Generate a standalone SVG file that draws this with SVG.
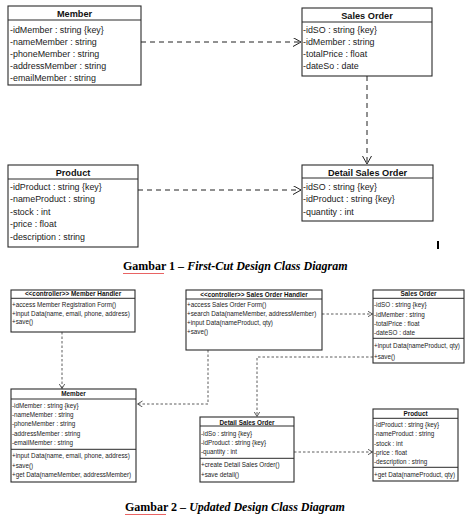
<svg xmlns="http://www.w3.org/2000/svg" width="469" height="524" viewBox="0 0 469 524">
<style>
.box{fill:#fff;stroke:#2a2a2a;stroke-width:1.1}
.sep{stroke:#2a2a2a;stroke-width:1}
.hd{font-family:"Liberation Sans",Arial,sans-serif;font-weight:bold;font-size:9.2px;fill:#111;text-anchor:middle}
.at{font-family:"Liberation Sans",Arial,sans-serif;font-size:8.9px;fill:#1a1a1a}
.hs{font-family:"Liberation Sans",Arial,sans-serif;font-weight:bold;font-size:6.4px;fill:#111;text-anchor:middle}
.as{font-family:"Liberation Sans",Arial,sans-serif;font-size:6.3px;fill:#222}
.d1{fill:none;stroke:#222;stroke-width:1;stroke-dasharray:5,4}
.d2{fill:none;stroke:#333;stroke-width:0.8;stroke-dasharray:2.5,2}
.cap{font-family:"Liberation Serif","Times New Roman",serif;font-weight:bold;font-size:12px;fill:#000}
.sq{fill:none;stroke:#e02020;stroke-width:0.7}
</style>
<defs>
<marker id="ab" markerUnits="userSpaceOnUse" markerWidth="10" markerHeight="10" refX="8" refY="4.5" orient="auto">
<path d="M0,0 L8,4.5 L0,9" fill="none" stroke="#222" stroke-width="1"/>
</marker>
<marker id="as" markerUnits="userSpaceOnUse" markerWidth="7" markerHeight="7" refX="5" refY="3" orient="auto">
<path d="M0,0 L5,3 L0,6" fill="none" stroke="#333" stroke-width="0.8"/>
</marker>
</defs>
<rect width="469" height="524" fill="#fff"/>

<!-- Top diagram -->
<g id="member1">
<rect class="box" x="8" y="6" width="133" height="79"/>
<line class="sep" x1="8" y1="20" x2="141" y2="20"/>
<text class="hd" x="74.5" y="17">Member</text>
<text class="at" x="10" y="32.5">-idMember : string {key}</text>
<text class="at" x="10" y="44.6">-nameMember : string</text>
<text class="at" x="10" y="56.7">-phoneMember : string</text>
<text class="at" x="10" y="68.8">-addressMember : string</text>
<text class="at" x="10" y="80.9">-emailMember : string</text>
</g>
<g id="salesorder1">
<rect class="box" x="302" y="8" width="130" height="68"/>
<line class="sep" x1="302" y1="22" x2="432" y2="22"/>
<text class="hd" x="367" y="18.5">Sales Order</text>
<text class="at" x="303" y="32.5">-idSO : string {key}</text>
<text class="at" x="303" y="44.5">-idMember : string</text>
<text class="at" x="303" y="56.5">-totalPrice : float</text>
<text class="at" x="303" y="68.6">-dateSo : date</text>
</g>
<g id="product1">
<rect class="box" x="8" y="165" width="130" height="82"/>
<line class="sep" x1="8" y1="179" x2="138" y2="179"/>
<text class="hd" x="73" y="176">Product</text>
<text class="at" x="10" y="189.5">-idProduct : string {key}</text>
<text class="at" x="10" y="202">-nameProduct : string</text>
<text class="at" x="10" y="214.7">-stock : int</text>
<text class="at" x="10" y="227">-price : float</text>
<text class="at" x="10" y="239.5">-description : string</text>
</g>
<g id="detail1">
<rect class="box" x="302" y="165" width="131" height="56"/>
<line class="sep" x1="302" y1="178" x2="433" y2="178"/>
<text class="hd" x="367.5" y="175.5">Detail Sales Order</text>
<text class="at" x="303" y="189.5">-idSO : string {key}</text>
<text class="at" x="303" y="202">-idProduct : string {key}</text>
<text class="at" x="303" y="214.7">-quantity : int</text>
</g>
<g id="connectors1">
<path class="d1" d="M141,42 H301" marker-end="url(#ab)"/>
<path class="d1" d="M367,76 V164" marker-end="url(#ab)"/>
<path class="d1" d="M138,190 H301" marker-end="url(#ab)"/>
</g>
<rect x="437" y="241" width="2" height="8" fill="#000"/>
<g id="caption1">
<text class="cap" x="123" y="270">Gambar 1 – <tspan font-style="italic">First-Cut Design Class Diagram</tspan></text>
<path class="sq" d="M123,273 l1,1 l1,-1 l1,1 l1,-1 l1,1 l1,-1 l1,1 l1,-1 l1,1 l1,-1 l1,1 l1,-1 l1,1 l1,-1 l1,1 l1,-1 l1,1 l1,-1 l1,1 l1,-1 l1,1 l1,-1 l1,1 l1,-1 l1,1 l1,-1 l1,1 l1,-1 l1,1 l1,-1 l1,1 l1,-1 l1,1 l1,-1 l1,1 l1,-1 l1,1 l1,-1 l1,1 l1,-1 l1,1"/>
</g>

<!-- Bottom diagram -->
<g id="memberhandler">
<rect class="box" x="11" y="290" width="124" height="42"/>
<line class="sep" x1="11" y1="298.3" x2="135" y2="298.3"/>
<text class="hs" x="73" y="296.3">&lt;&lt;controller&gt;&gt; Member Handler</text>
<text class="as" x="12" y="307.3">+access Member Registration Form()</text>
<text class="as" x="12" y="315.6">+input Data(name, email, phone, address)</text>
<text class="as" x="12" y="324">+save()</text>
</g>
<g id="salesorderhandler">
<rect class="box" x="186" y="290" width="136" height="60"/>
<line class="sep" x1="186" y1="299" x2="322" y2="299"/>
<text class="hs" x="254" y="296.6">&lt;&lt;controller&gt;&gt; Sales Order Handler</text>
<text class="as" x="187" y="307.3">+access Sales Order Form()</text>
<text class="as" x="187" y="316">+search Data(nameMember, addressMember)</text>
<text class="as" x="187" y="325">+input Data(nameProduct, qty)</text>
<text class="as" x="187" y="334">+save()</text>
</g>
<g id="salesorder2">
<rect class="box" x="373" y="290" width="91" height="73"/>
<line class="sep" x1="373" y1="298.3" x2="464" y2="298.3"/>
<line class="sep" x1="373" y1="338.3" x2="464" y2="338.3"/>
<text class="hs" x="418.5" y="296.3">Sales Order</text>
<text class="as" x="374" y="307.3">-idSO : string {key}</text>
<text class="as" x="374" y="316.6">-idMember : string</text>
<text class="as" x="374" y="325.6">-totalPrice : float</text>
<text class="as" x="374" y="335">-dateSO : date</text>
<text class="as" x="374" y="348">+input Data(nameProduct, qty)</text>
<text class="as" x="374" y="359">+save()</text>
</g>
<g id="member2">
<rect class="box" x="11" y="389" width="125" height="93"/>
<line class="sep" x1="11" y1="399" x2="136" y2="399"/>
<line class="sep" x1="11" y1="449.3" x2="136" y2="449.3"/>
<text class="hs" x="73.5" y="396.3">Member</text>
<text class="as" x="12" y="408.3">-idMember : string {key}</text>
<text class="as" x="12" y="417.3">-nameMember : string</text>
<text class="as" x="12" y="426.3">-phoneMember : string</text>
<text class="as" x="12" y="435.6">-addressMember : string</text>
<text class="as" x="12" y="445">-emailMember : string</text>
<text class="as" x="12" y="458.3">+input Data(name, email, phone, address)</text>
<text class="as" x="12" y="468">+save()</text>
<text class="as" x="12" y="477.3">+get Data(nameMember, addressMember)</text>
</g>
<g id="detail2">
<rect class="box" x="200" y="417" width="94" height="65"/>
<line class="sep" x1="200" y1="426" x2="294" y2="426"/>
<line class="sep" x1="200" y1="458.3" x2="294" y2="458.3"/>
<text class="hs" x="247" y="424.6">Detail Sales Order</text>
<text class="as" x="201" y="435.6">-idSo : string {key}</text>
<text class="as" x="201" y="445">-idProduct : string {key}</text>
<text class="as" x="201" y="454">-quantity : int</text>
<text class="as" x="201" y="467.3">+create Detail Sales Order()</text>
<text class="as" x="201" y="477.3">+save detail()</text>
</g>
<g id="product2">
<rect class="box" x="373" y="409" width="85" height="72"/>
<line class="sep" x1="373" y1="418.3" x2="458" y2="418.3"/>
<line class="sep" x1="373" y1="467.3" x2="458" y2="467.3"/>
<text class="hs" x="415.5" y="415.8">Product</text>
<text class="as" x="374" y="426.6">-idProduct : string {key}</text>
<text class="as" x="374" y="436.3">-nameProduct : string</text>
<text class="as" x="374" y="445.6">-stock : int</text>
<text class="as" x="374" y="455">-price : float</text>
<text class="as" x="374" y="464">-description : string</text>
<text class="as" x="374" y="476.6">+get Data(nameProduct, qty)</text>
</g>
<g id="connectors2">
<path class="d2" d="M62,332 V388.5" marker-end="url(#as)"/>
<path class="d2" d="M322,314 H372.5" marker-end="url(#as)"/>
<path class="d2" d="M208,350 V404 H137.5" marker-end="url(#as)"/>
<path class="d2" d="M373,357 H257 V416.5" marker-end="url(#as)"/>
<path class="d2" d="M294,452 H372.5" marker-end="url(#as)"/>
</g>
<g id="caption2">
<text class="cap" x="125" y="511">Gambar 2 – <tspan font-style="italic">Updated Design Class Diagram</tspan></text>
<path class="sq" d="M125,514 l1,1 l1,-1 l1,1 l1,-1 l1,1 l1,-1 l1,1 l1,-1 l1,1 l1,-1 l1,1 l1,-1 l1,1 l1,-1 l1,1 l1,-1 l1,1 l1,-1 l1,1 l1,-1 l1,1 l1,-1 l1,1 l1,-1 l1,1 l1,-1 l1,1 l1,-1 l1,1 l1,-1 l1,1 l1,-1 l1,1 l1,-1 l1,1 l1,-1 l1,1 l1,-1 l1,1 l1,-1 l1,1"/>
</g>
</svg>
